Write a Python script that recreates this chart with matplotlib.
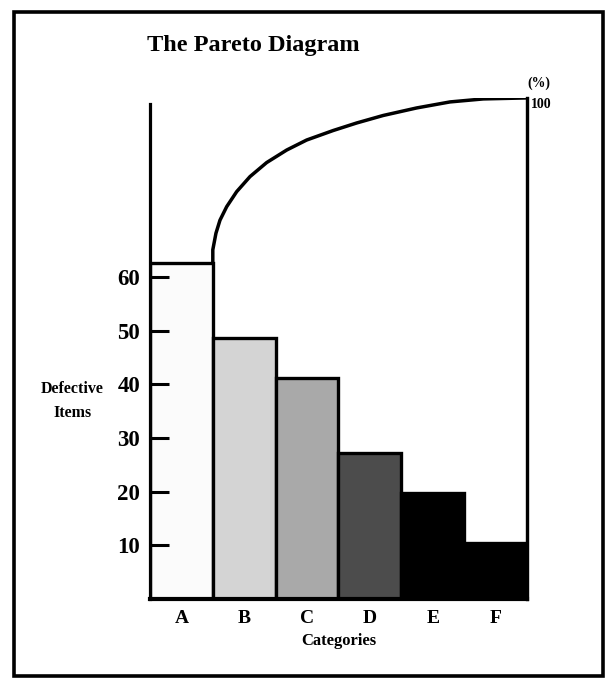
import matplotlib
matplotlib.use("Agg")
import matplotlib.pyplot as plt
from matplotlib.patches import Rectangle

# data
categories = ["A", "B", "C", "D", "E", "F"]
defects = [62.6, 48.6, 41.2, 27.2, 19.7, 10.4]
bar_colors = ["#fbfbfb", "#d4d4d4", "#a9a9a9", "#4c4c4c", "#000000", "#000000"]
y_ticks = [10, 20, 30, 40, 50, 60]

# cumulative curve (position along category axis, percent)
curve_x = [0.5, 0.5, 0.55, 0.614, 0.721, 0.88, 1.092, 1.357, 1.676, 1.994,
           2.417, 2.79, 3.213, 3.745, 4.275, 4.805, 5.5]
curve_pct = [67.0, 69.7, 73.0, 75.6, 78.3, 81.3, 84.3, 87.1, 89.6, 91.6,
             93.5, 95.0, 96.5, 98.0, 99.2, 99.8, 100]

plt.rcParams["font.family"] = ["Liberation Serif", "DejaVu Serif"]
plt.rcParams["font.weight"] = "bold"

fig = plt.figure(figsize=(6.06, 6.8), dpi=100)

# outer frame
fig.patches.append(Rectangle((0.023, 0.006), 0.972, 0.976, transform=fig.transFigure,
                             fill=False, edgecolor="black", linewidth=2.6))

ax = fig.add_axes([0.2475, 0.119, 0.622, 0.737])
ax.bar(range(len(categories)), defects, width=1.0, color=bar_colors,
       edgecolor="black", linewidth=2.4)
ax.set_xlim(-0.5, 5.5)
ax.set_ylim(0, 93.3)

ax.spines["top"].set_visible(False)
ax.spines["left"].set_linewidth(2.3)
ax.spines["left"].set_bounds(0, 92.2)
ax.spines["bottom"].set_linewidth(3)
ax.spines["right"].set_linewidth(2.3)

ax.set_yticks(y_ticks)
ax.tick_params(axis="y", direction="in", length=14, width=2.2, pad=7, labelsize=16.5)
ax.set_xticks(range(len(categories)))
ax.set_xticklabels(categories)
ax.tick_params(axis="x", length=0, pad=8, labelsize=14)
for lab in ax.get_yticklabels() + ax.get_xticklabels():
    lab.set_fontweight("bold")
ax.set_xlabel("Categories", fontsize=12, fontweight="bold", labelpad=4)

ax2 = ax.twinx()
ax2.set_ylim(0, 100)
for s in ["top", "left", "bottom"]:
    ax2.spines[s].set_visible(False)
ax2.spines["right"].set_linewidth(2.3)
ax2.plot(curve_x, curve_pct, color="black", linewidth=2.5,
         solid_capstyle="butt", solid_joinstyle="round")
ax2.set_yticks([100])
ax2.set_yticklabels(["100"])
ax2.tick_params(axis="y", length=0, pad=3, labelsize=10)
for lab in ax2.get_yticklabels():
    lab.set_fontweight("bold")
    lab.set_verticalalignment("top")
ax2.text(1.0, 1.03, "(%)", transform=ax2.transAxes, fontsize=10, fontweight="bold",
         ha="left", va="center")

fig.text(0.418, 0.933, "The Pareto Diagram", fontsize=17.5, fontweight="bold",
         ha="center", va="center")
fig.text(0.119, 0.41, "Defective\nItems", fontsize=11.5, fontweight="bold",
         ha="center", va="center", linespacing=1.65)

fig.savefig("out.png", dpi=100)
